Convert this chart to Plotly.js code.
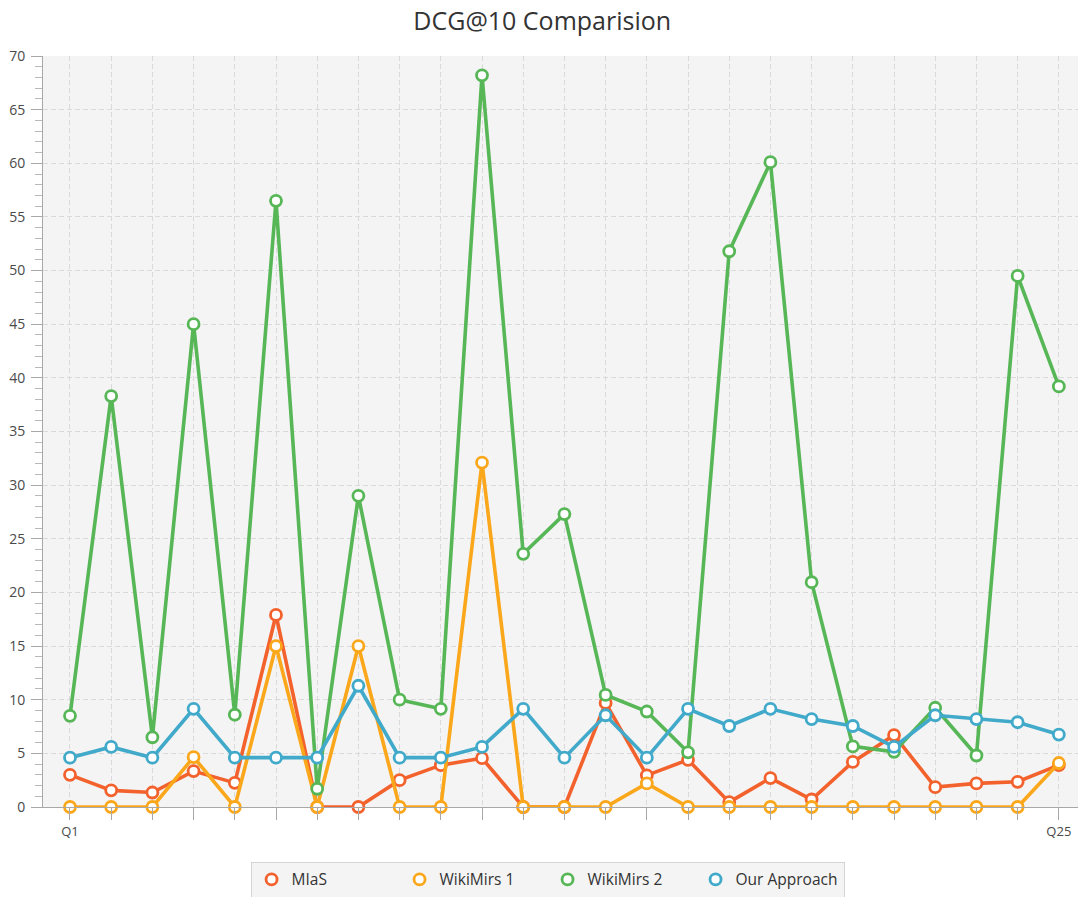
<!DOCTYPE html>
<html>
<head>
<meta charset="utf-8">
<script src="https://cdn.plot.ly/plotly-3.0.1.min.js"></script>
<style>
  html, body { margin: 0; padding: 0; background: #ffffff; }
  #chart { width: 1078px; height: 897px; }
</style>
</head>
<body>
<div id="chart"></div>
<script>
const categories = ["Q1","Q2","Q3","Q4","Q5","Q6","Q7","Q8","Q9","Q10","Q11","Q12","Q13",
                    "Q14","Q15","Q16","Q17","Q18","Q19","Q20","Q21","Q22","Q23","Q24","Q25"];
const shownTickLabels = ["Q1", "Q25"];

const seriesNames = ["MIaS", "WikiMirs 1", "WikiMirs 2", "Our Approach"];

const mias = [3.0, 1.55, 1.35, 3.35, 2.25, 17.9, 0, 0, 2.5, 3.9, 4.55, 0, 0,
              9.7, 2.95, 4.4, 0.45, 2.7, 0.7, 4.2, 6.7, 1.85, 2.2, 2.35, 3.9];
const wikiMirs1 = [0, 0, 0, 4.65, 0, 15.0, 0, 15.0, 0, 0, 32.1, 0, 0,
                   0, 2.2, 0, 0, 0, 0, 0, 0, 0, 0, 0, 4.1];
const wikiMirs2 = [8.5, 38.3, 6.5, 45.0, 8.6, 56.5, 1.7, 29.0, 10.0, 9.15, 68.2, 23.6, 27.3,
                   10.45, 8.9, 5.1, 51.8, 60.1, 20.95, 5.65, 5.15, 9.25, 4.8, 49.5, 39.2];
const ourApproach = [4.6, 5.6, 4.6, 9.15, 4.6, 4.6, 4.6, 11.3, 4.6, 4.6, 5.6, 9.15, 4.6,
                     8.55, 4.6, 9.15, 7.55, 9.15, 8.2, 7.55, 5.6, 8.55, 8.2, 7.9, 6.75];

const seriesValues = [mias, wikiMirs1, wikiMirs2, ourApproach];
const seriesColors = ["#f3622d", "#fba71b", "#57b757", "#41a9c9"];

const traces = [];
seriesValues.forEach((vals, i) => {
  traces.push({
    type: "scatter",
    mode: "lines+markers",
    x: categories,
    y: vals,
    name: seriesNames[i],
    showlegend: false,
    legendgroup: seriesNames[i],
    line: { color: seriesColors[i], width: 3.6 },
    marker: { symbol: "circle", size: 11, color: "#ffffff",
              line: { color: seriesColors[i], width: 2.8 } },
    cliponaxis: false,
    hoverinfo: "x+y+name"
  });
});
// legend-only entries (marker swatch only, no data drawn)
seriesNames.forEach((nm, i) => {
  traces.push({
    type: "scatter",
    mode: "markers",
    x: [null], y: [null],
    name: nm,
    legendgroup: nm,
    showlegend: true,
    marker: { symbol: "circle", size: 11, color: "#ffffff",
              line: { color: seriesColors[i], width: 2.8 } }
  });
});

const tickText = categories.map(c => shownTickLabels.includes(c) ? c : "");

const layout = {
  width: 1078,
  height: 897,
  margin: { l: 43, r: 0, t: 56, b: 90, pad: 0, autoexpand: false },
  paper_bgcolor: "#ffffff",
  plot_bgcolor: "#f4f4f4",
  font: { family: "Open Sans, Noto Sans, sans-serif", color: "#444444" },
  title: {
    text: "DCG@10 Comparision",
    font: { family: "Open Sans, Noto Sans, sans-serif", size: 25, color: "#333333" },
    x: 0.503, xanchor: "center",
    y: 1 - 21 / 897, yanchor: "middle"
  },
  xaxis: {
    type: "category",
    range: [-0.655, 24.465],
    tickmode: "array",
    tickvals: categories,
    ticktext: tickText,
    ticks: "outside",
    ticklen: 12,
    tickwidth: 1,
    tickcolor: "#a8a8a8",
    showline: true,
    linecolor: "#a8a8a8",
    linewidth: 1,
    showgrid: true,
    gridcolor: "#dadada",
    gridwidth: 1,
    griddash: "5px,3px",
    zeroline: false,
    tickfont: { size: 13, color: "#4a4a4a" },
    fixedrange: true
  },
  yaxis: {
    range: [0, 70],
    dtick: 5,
    tick0: 0,
    ticks: "outside",
    ticklen: 11,
    tickwidth: 1,
    tickcolor: "#a8a8a8",
    showline: true,
    linecolor: "#a8a8a8",
    linewidth: 1,
    showgrid: true,
    gridcolor: "#dadada",
    gridwidth: 1,
    griddash: "5px,3px",
    zeroline: false,
    tickfont: { size: 14, color: "#4a4a4a" },
    ticklabelstandoff: 3,
    minor: { dtick: 1, ticks: "outside", ticklen: 7, tickcolor: "#b8b8b8", showgrid: false },
    fixedrange: true
  },
  legend: {
    orientation: "h",
    x: 0.4875, xanchor: "center",
    y: -0.073, yanchor: "top",
    bgcolor: "#f4f4f4",
    bordercolor: "#d4d4d4",
    borderwidth: 1,
    font: { size: 15.5, color: "#333333" },
    itemwidth: 30,
    entrywidth: 103,
    entrywidthmode: "pixels",
    traceorder: "normal"
  },
  showlegend: true
};

Plotly.newPlot("chart", traces, layout, { displayModeBar: false, staticPlot: true });
</script>
</body>
</html>
